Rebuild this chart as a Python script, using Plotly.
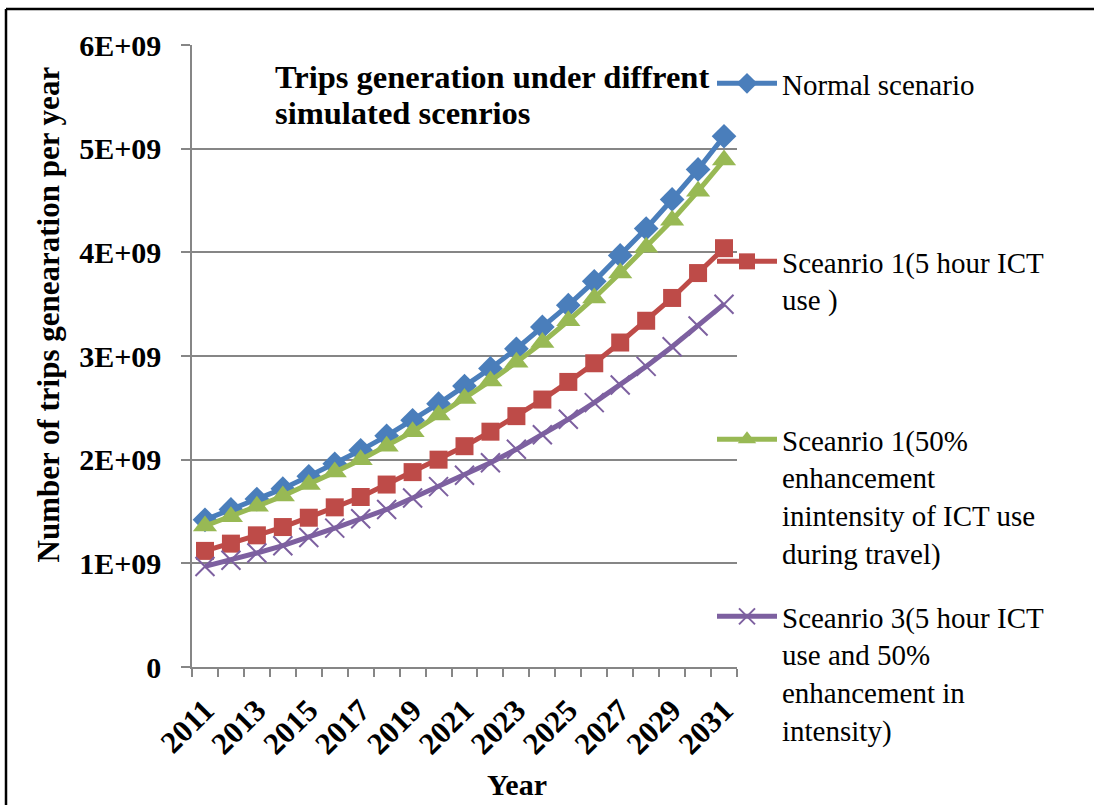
import plotly.graph_objects as go

years = list(range(2011, 2032))
normal = [1.42, 1.52, 1.62, 1.72, 1.84, 1.96, 2.09, 2.23, 2.38, 2.54, 2.71,
          2.88, 3.07, 3.28, 3.49, 3.72, 3.97, 4.23, 4.51, 4.80, 5.12]
scen1_5h = [1.12, 1.19, 1.27, 1.35, 1.44, 1.54, 1.64, 1.76, 1.88, 2.00, 2.13,
            2.27, 2.42, 2.58, 2.75, 2.93, 3.13, 3.34, 3.56, 3.80, 4.04]
scen1_50 = [1.36, 1.45, 1.55, 1.65, 1.76, 1.88, 2.00, 2.13, 2.27, 2.43, 2.59,
            2.76, 2.94, 3.13, 3.34, 3.56, 3.80, 4.05, 4.31, 4.59, 4.89]
scen3 = [0.97, 1.03, 1.10, 1.17, 1.25, 1.34, 1.43, 1.52, 1.63, 1.74, 1.85,
         1.97, 2.10, 2.24, 2.39, 2.55, 2.72, 2.90, 3.09, 3.29, 3.50]
scale = 1e9

names = ["Normal scenario",
         "Sceanrio 1(5 hour ICT<br>use )",
         "Sceanrio 1(50%<br>enhancement<br>inintensity of ICT use<br>during travel)",
         "Sceanrio 3(5 hour ICT<br>use and 50%<br>enhancement in<br>intensity)"]
colors = ["#4A7EBB", "#BE4B48", "#98B954", "#7D60A0"]
symbols = ["diamond", "square", "triangle-up", "x-thin"]
sizes = [19, 18, 21, 19]
series = [normal, scen1_5h, scen1_50, scen3]
legends = ["legend", "legend2", "legend3", "legend4"]

ytickvals = [0, 1e9, 2e9, 3e9, 4e9, 5e9, 6e9]
yticktext = ["0", "1E+09", "2E+09", "3E+09", "4E+09", "5E+09", "6E+09"]
xtickvals = list(range(2011, 2032, 2))
xticktext = [str(y) for y in xtickvals]

SERIF = "Liberation Serif"

# plot area in pixels
L, R, T, B = 192, 737, 45, 667
W, H = 1094, 805
def px(x):
    return (x - L) / (R - L)
def py(y):
    return (B - y) / (B - T)

fig = go.Figure()
for i, (name, vals) in enumerate(zip(names, series)):
    marker = dict(symbol=symbols[i], size=sizes[i], color=colors[i])
    if symbols[i] == "x-thin":
        marker["line"] = dict(color=colors[i], width=2)
    fig.add_trace(go.Scatter(
        x=years, y=[v * scale for v in vals], name=name, mode="lines+markers",
        line=dict(color=colors[i], width=5), marker=marker,
        legend=legends[i], showlegend=True))

legend_top_px = [58, 236, 414, 591]
leg_common = dict(font=dict(family=SERIF, size=29, color="black"),
                  bgcolor="rgba(0,0,0,0)", xanchor="left", yanchor="top",
                  valign="top", itemwidth=60, tracegroupgap=0)

layout_legends = {}
for lg, top in zip(legends, legend_top_px):
    layout_legends[lg] = dict(x=px(712), y=py(top), **leg_common)

fig.update_layout(
    width=W, height=H,
    margin=dict(l=L, r=W - R, t=T, b=H - B, pad=0),
    paper_bgcolor="white", plot_bgcolor="white",
    font=dict(family=SERIF, color="black"),
    **layout_legends,
    xaxis=dict(range=[2010.5, 2031.5], tickvals=xtickvals, ticktext=xticktext,
               tickangle=-45, ticks="", showgrid=False, zeroline=False,
               showline=True, linecolor="#868686", linewidth=1.5,
               ticklabelstandoff=11,
               tickfont=dict(family=SERIF, size=31, color="black", weight="bold"),
               minor=dict(ticks="outside", tick0=2010.5, dtick=1, ticklen=8,
                          tickcolor="#868686", tickwidth=1.5, showgrid=False)),
    yaxis=dict(range=[0, 6e9], tickvals=ytickvals, ticktext=yticktext,
               ticks="outside", ticklen=9, tickcolor="#868686", tickwidth=1.5,
               showgrid=True, gridcolor="#868686", gridwidth=1.8,
               zeroline=False, showline=True, linecolor="#868686", linewidth=1.5,
               ticklabelstandoff=14,
               tickfont=dict(family=SERIF, size=30, color="black", weight="bold")),
    shapes=[
        dict(type="line", xref="paper", yref="paper", x0=px(6), x1=px(1100),
             y0=py(9), y1=py(9), line=dict(color="black", width=2.5)),
        dict(type="line", xref="paper", yref="paper", x0=px(6), x1=px(6),
             y0=py(9), y1=py(810), line=dict(color="black", width=2.5)),
    ],
    annotations=[
        dict(text="<b>Trips generation under diffrent</b>", xref="paper", yref="paper",
             x=px(273), y=py(77), xanchor="left", yanchor="middle", showarrow=False,
             font=dict(family=SERIF, size=32.5, color="black")),
        dict(text="<b>simulated scenrios</b>", xref="paper", yref="paper",
             x=px(273), y=py(113), xanchor="left", yanchor="middle", showarrow=False,
             font=dict(family=SERIF, size=32.5, color="black")),
        dict(text="<b>Number of trips genearation per year</b>", xref="paper", yref="paper",
             x=px(48), y=py(314.5), xanchor="center", yanchor="middle", textangle=-90,
             showarrow=False, font=dict(family=SERIF, size=31, color="black")),
        dict(text="<b>Year</b>", xref="paper", yref="paper",
             x=px(517), y=py(784), xanchor="center", yanchor="middle",
             showarrow=False, font=dict(family=SERIF, size=30, color="black")),
    ],
)

fig.write_html("out.html", config={"displayModeBar": False},
               post_script="document.body.style.margin='0px';")
